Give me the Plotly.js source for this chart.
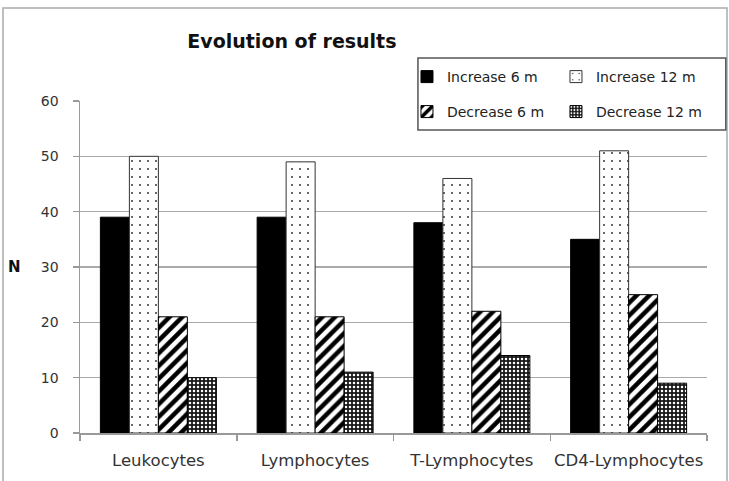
<!DOCTYPE html>
<html>
<head>
<meta charset="utf-8">
<script src="https://cdn.plot.ly/plotly-3.0.1.min.js"></script>
<style>
  html, body { margin: 0; padding: 0; background: #fff; }
  #chart { width: 729px; height: 481px; }
</style>
</head>
<body>
<div id="chart"></div>
<script>
// Counts of patients whose values rose or fell at 6 and 12 months
var categories = ['Leukocytes', 'Lymphocytes', 'T-Lymphocytes', 'CD4-Lymphocytes'];
var increase6 = [39, 39, 38, 35];
var increase12 = [50, 49, 46, 51];
var decrease6 = [21, 21, 22, 25];
var decrease12 = [10, 11, 14, 9];
var seriesNames = ['Increase 6 m', 'Increase 12 m', 'Decrease 6 m', 'Decrease 12 m'];
var yTicks = [0, 10, 20, 30, 40, 50, 60];

var FONT = 'DejaVu Sans, Verdana, sans-serif';
var outline = { color: '#000', width: 1 };

var traces = [
  {
    type: 'bar', name: seriesNames[0], x: categories, y: increase6,
    legend: 'legend',
    marker: { color: '#000', line: outline }
  },
  {
    type: 'bar', name: seriesNames[1], x: categories, y: increase12,
    legend: 'legend',
    marker: {
      color: '#fff', line: { color: '#333', width: 1 },
      pattern: { shape: '.', fgcolor: '#222', bgcolor: '#fff', size: 8, solidity: 0.04 }
    }
  },
  {
    type: 'bar', name: seriesNames[2], x: categories, y: decrease6,
    legend: 'legend2',
    marker: {
      color: '#fff', line: outline,
      pattern: { shape: '/', fgcolor: '#000', bgcolor: '#fff', size: 9, solidity: 0.5 }
    }
  },
  {
    type: 'bar', name: seriesNames[3], x: categories, y: decrease12,
    legend: 'legend2',
    marker: {
      color: '#222', line: outline,
      pattern: { shape: '.', fgcolor: '#fff', bgcolor: '#1a1a1a', size: 4, solidity: 0.3 }
    }
  }
];

var legendCommon = {
  orientation: 'h',
  xanchor: 'left', yanchor: 'middle',
  x: 0.5215,
  entrywidth: 104,
  bgcolor: 'rgba(0,0,0,0)',
  borderwidth: 0,
  font: { family: FONT, size: 14, color: '#222' }
};

var layout = {
  width: 729, height: 481,
  margin: { l: 80, r: 22, t: 101, b: 48 },
  paper_bgcolor: '#fff', plot_bgcolor: '#fff',
  barmode: 'group', bargap: 0.26, bargroupgap: 0,
  showlegend: true,
  title: {
    text: '<b>Evolution of results</b>',
    font: { family: FONT, size: 19, color: '#111' },
    xref: 'paper', x: 0.338, xanchor: 'center',
    yref: 'container', y: 0.913, yanchor: 'middle'
  },
  xaxis: {
    type: 'category',
    showline: true, linecolor: '#999', linewidth: 1.5,
    ticks: 'outside', tickson: 'boundaries', ticklen: 6, tickcolor: '#999', tickwidth: 1.5,
    showgrid: false,
    tickangle: 0,
    ticklabelstandoff: 12,
    tickfont: { family: FONT, size: 16.5, color: '#333' }
  },
  yaxis: {
    range: [0, 60], tickvals: yTicks, ticktext: yTicks.map(String),
    showline: true, linecolor: '#999', linewidth: 1.5,
    ticks: 'outside', ticklen: 6, tickcolor: '#999', tickwidth: 1.5,
    showgrid: true, gridcolor: '#aaa', gridwidth: 1.5,
    zeroline: false,
    ticklabelstandoff: 11,
    tickfont: { family: FONT, size: 14, color: '#333' }
  },
  legend: Object.assign({}, legendCommon, { y: 1.0723 }),
  legend2: Object.assign({}, legendCommon, { y: 0.9669 }),
  annotations: [
    {
      text: '<b>N</b>', xref: 'paper', yref: 'paper', x: -0.105, y: 0.5,
      xanchor: 'center', yanchor: 'middle', showarrow: false,
      font: { family: FONT, size: 15, color: '#111' }
    }
  ],
  shapes: [
    // outer chart frame
    {
      type: 'rect', xref: 'paper', yref: 'paper',
      x0: -0.1228, x1: 1.0319, y0: -0.16, y1: 1.28,
      line: { color: '#aaa', width: 1.5 }, fillcolor: 'rgba(0,0,0,0)', layer: 'below'
    },
    // legend box
    {
      type: 'rect', xref: 'paper', yref: 'paper',
      x0: 0.539, x1: 1.03, y0: 0.9127, y1: 1.1295,
      line: { color: '#555', width: 1.5 }, fillcolor: '#fff', layer: 'below'
    }
  ]
};

Plotly.newPlot('chart', traces, layout, { displayModeBar: false, staticPlot: true });
</script>
</body>
</html>
